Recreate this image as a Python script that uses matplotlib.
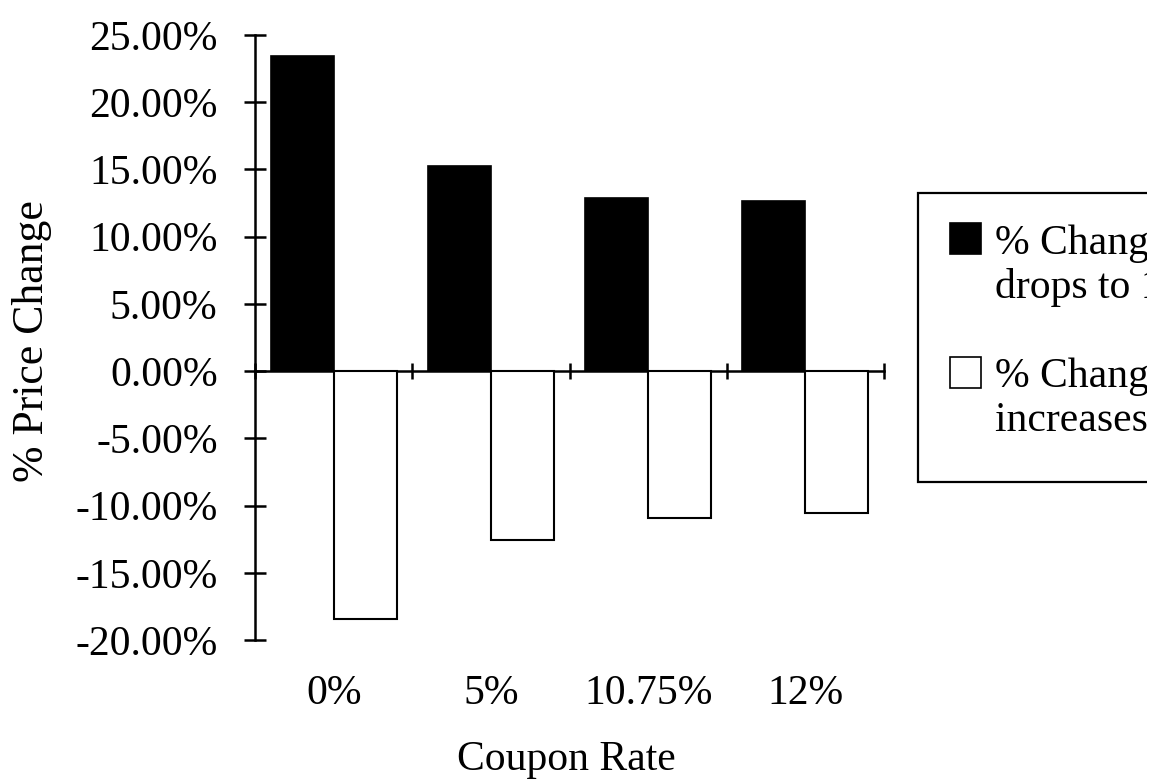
import matplotlib
matplotlib.use("Agg")
import matplotlib.pyplot as plt
import numpy as np
from matplotlib.patches import Rectangle
from matplotlib.ticker import FuncFormatter, MultipleLocator
from matplotlib.transforms import Bbox, TransformedBbox

categories = ["0%", "5%", "10.75%", "12%"]
drop_change = [0.2345, 0.1525, 0.1287, 0.1265]
rise_change = [-0.1845, -0.1254, -0.1092, -0.1054]
legend_labels = [["% Change if yield", "drops to 10%"],
                 ["% Change if yield", "increases to 12%"]]
y_label = "% Price Change"
x_label = "Coupon Rate"

plt.rcParams['font.family'] = ['Liberation Serif', 'DejaVu Serif']
FS = 30

W, H = 1168, 784
fig = plt.figure(figsize=(W / 100, H / 100), dpi=100)

def fx(px):
    return px / W

def fy(py):
    return 1 - py / H

ax_l, ax_r, ax_t, ax_b = 255, 884, 35, 640
ax = fig.add_axes([fx(ax_l), fy(ax_b), fx(ax_r - ax_l), (ax_b - ax_t) / H])

x = np.arange(len(categories)) + 0.5
bw = 0.4
ax.bar(x - bw / 2, drop_change, bw, color='black', edgecolor='black', linewidth=1.2, zorder=2)
ax.bar(x + bw / 2, rise_change, bw, color='white', edgecolor='black', linewidth=1.5, zorder=2)

ymin, ymax = -0.20, 0.25
ax.set_ylim(ymin, ymax)
ax.set_xlim(0, len(categories))

for s in ['top', 'right', 'bottom']:
    ax.spines[s].set_visible(False)
ax.spines['left'].set_linewidth(1.8)

ax.yaxis.set_major_locator(MultipleLocator(0.05))
ax.yaxis.set_major_formatter(FuncFormatter(lambda v, p: f"{v * 100 + 0.0:.2f}%"))
ax.tick_params(axis='y', direction='inout', length=16, width=1.8, labelsize=FS, pad=19)

ax.set_xticks(x)
ax.set_xticklabels(categories)
ax.tick_params(axis='x', length=0, labelsize=FS, pad=25)

# zero line with category-boundary ticks
loc0 = (0 - ymin) / (ymax - ymin)
sec = ax.secondary_xaxis(loc0)
sec.spines['bottom'].set_linewidth(1.8)
sec.set_xticks(np.arange(len(categories) + 1))
sec.tick_params(direction='inout', length=12, width=1.8, labelbottom=False)

fig.text(fx(32), fy(341), y_label, rotation=90, ha='center', va='center', fontsize=31.5)
fig.text(fx(566), fy(760), x_label, ha='center', va='center', fontsize=FS)

# legend (content of the reference is cut off at x ~ 1147 px)
clip = TransformedBbox(Bbox([[0, 0], [1147 / W, 1]]), fig.transFigure)
box = Rectangle((fx(918), fy(482)), fx(400), (482 - 193) / H,
                transform=fig.transFigure, facecolor='white',
                edgecolor='black', linewidth=1.6, zorder=1)
box.set_clip_box(clip)
box.set_clip_on(True)
fig.patches.append(box)
sq = [(223, 'black'), (357, 'white')]
base = [(254, 298), (387, 431)]
for (top, col), (b1, b2), lab in zip(sq, base, legend_labels):
    fig.patches.append(Rectangle((fx(950), fy(top + 31)), fx(31), 31 / H,
                                 transform=fig.transFigure, facecolor=col,
                                 edgecolor='black', linewidth=1.2, zorder=2))
    for yy, s in ((b1, lab[0]), (b2, lab[1])):
        t = fig.text(fx(995), fy(yy), s, ha='left', va='baseline', fontsize=FS)
        t.set_clip_box(clip)
        t.set_clip_on(True)

fig.savefig("out.png", dpi=100)
